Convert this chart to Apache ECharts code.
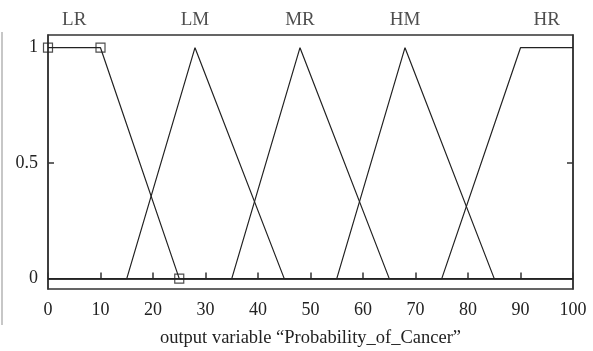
<!DOCTYPE html>
<html>
<head>
<meta charset="utf-8">
<script src="https://cdn.jsdelivr.net/npm/echarts@6/dist/echarts.min.js"></script>
<style>
  html, body { margin: 0; padding: 0; background: #fff; }
  #chart { width: 593px; height: 351px; }
</style>
</head>
<body>
<div id="chart"></div>
<script>
// membership functions of the output variable (x, degree)
const mfNames = ['LR', 'LM', 'MR', 'HM', 'HR'];
const mfX = [
  [0, 10, 25, 100],
  [0, 15, 28, 45, 100],
  [0, 35, 48, 65, 100],
  [0, 55, 68, 85, 100],
  [0, 75, 90, 100]
];
const mfY = [
  [1, 1, 0, 0],
  [0, 0, 1, 0, 0],
  [0, 0, 1, 0, 0],
  [0, 0, 1, 0, 0],
  [0, 0, 1, 1]
];
// where each name sits above the plot
const labelX = [5, 28, 48, 68, 95];
const labelY = 1.12;
// selected-MF handles (squares) on LR
const handleX = [0, 10, 25];
const handleY = [1, 1, 0];

const xTicks = [0, 10, 20, 30, 40, 50, 60, 70, 80, 90, 100];
const yTicks = [0, 0.5, 1];

const font = 'Liberation Serif, DejaVu Serif, serif';
const ink = '#222';

const chart = echarts.init(document.getElementById('chart'));

const lineSeries = mfNames.map((name, i) => ({
  name: name,
  type: 'line',
  data: mfX[i].map((x, j) => [x, mfY[i][j]]),
  symbol: 'none',
  lineStyle: { color: ink, width: 1.2 },
  clip: true,
  silent: true,
  z: 3
}));

const option = {
  animation: false,
  grid: {
    left: 48, right: 20, top: 35, bottom: 62,
    outerBoundsMode: 'none',
    containLabel: false,
    show: true, borderColor: '#333', borderWidth: 1.5
  },
  xAxis: {
    type: 'value',
    min: 0, max: 100, interval: 10,
    name: 'output variable \u201cProbability_of_Cancer\u201d',
    nameLocation: 'middle',
    nameGap: 40,
    nameTextStyle: { fontFamily: font, fontSize: 18.5, color: ink },
    axisLine: { lineStyle: { color: '#333', width: 1.5 } },
    axisTick: { inside: true, length: 6, lineStyle: { color: '#333', width: 1.5 } },
    axisLabel: {
      fontFamily: font, fontSize: 18, color: ink, margin: 12,
      customValues: xTicks
    },
    splitLine: { show: false }
  },
  yAxis: [
    {
      type: 'value',
      min: -0.045, max: 1.055,
      axisLine: { show: true, lineStyle: { color: '#333', width: 1.5 } },
      axisTick: { show: true, inside: true, length: 6, customValues: [0.5], lineStyle: { color: '#333', width: 1.5 } },
      axisLabel: { fontFamily: font, fontSize: 18, color: ink, margin: 10, customValues: yTicks },
      splitLine: { show: false }
    },
    {
      type: 'value',
      position: 'right',
      min: -0.045, max: 1.055,
      axisLine: { show: true, lineStyle: { color: '#333', width: 1.5 } },
      axisTick: { show: true, inside: true, length: 6, customValues: [0.5], lineStyle: { color: '#333', width: 1.5 } },
      axisLabel: { show: false },
      splitLine: { show: false }
    }
  ],
  graphic: [
    {
      type: 'line',
      shape: { x1: 2, y1: 32, x2: 2, y2: 325 },
      style: { stroke: '#b5b5b5', lineWidth: 1.5 }
    }
  ],
  series: [
    ...lineSeries,
    {
      name: 'handles',
      type: 'scatter',
      data: handleX.map((x, j) => [x, handleY[j]]),
      symbol: 'rect',
      symbolSize: 9,
      itemStyle: { color: 'rgba(0,0,0,0)', borderColor: ink, borderWidth: 1.2 },
      clip: true,
      silent: true,
      z: 4
    },
    {
      name: 'names',
      type: 'scatter',
      data: mfNames.map((n, i) => ({ name: n, value: [labelX[i], labelY] })),
      symbolSize: 0,
      clip: false,
      silent: true,
      label: {
        show: true,
        position: 'inside',
        formatter: '{b}',
        fontFamily: font,
        fontSize: 19,
        color: ink
      }
    }
  ]
};

chart.setOption(option);
</script>
</body>
</html>
